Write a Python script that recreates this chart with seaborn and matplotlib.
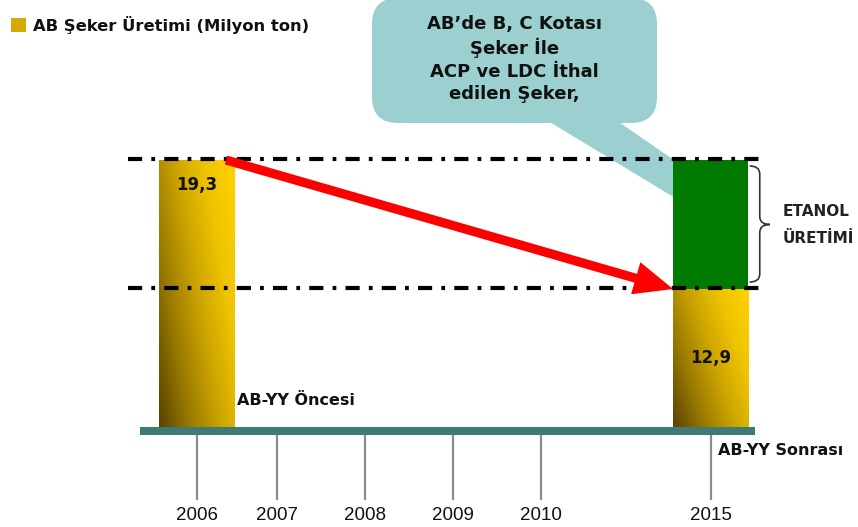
import numpy as np
import pandas as pd
import matplotlib
matplotlib.use("Agg")
import matplotlib.pyplot as plt
import seaborn as sns
from matplotlib.patches import Rectangle, FancyBboxPatch, Polygon, FancyArrowPatch, Patch, PathPatch
from matplotlib.path import Path
from matplotlib.colors import LinearSegmentedColormap

# ---------------- data ----------------
years = ["2006", "2007", "2008", "2009", "2010", "2015"]
bar_years = ["2006", "2015"]
sugar = [19.3, 12.9]          # AB şeker üretimi (milyon ton)
ethanol = [0.0, 6.4]          # etanol üretimine giden kısım
sugar_labels = ["19,3", "12,9"]
legend_label = "AB Şeker Üretimi (Milyon ton)"
era_labels = ["AB-YY Öncesi", "AB-YY Sonrası"]
bubble_text = "AB’de B, C Kotası\nŞeker İle\nACP ve LDC İthal\nedilen Şeker,"
brace_text = "ETANOL\nÜRETİMİ"

# ---------------- layout ----------------
year_pos = [0.0, 0.91, 1.91, 2.91, 3.91, 5.84]   # broken time axis positions
pos = dict(zip(years, year_pos))
BASE = 6.05          # value at the visual baseline (axis does not start at 0)
BAR_W = 0.86
XLIM = (-2.2386, 7.5114)
YLIM = (1.096, 27.236)

sns.set_theme(style="white")
plt.rcParams["font.family"] = ["DejaVu Sans"]

fig = plt.figure(figsize=(8.58, 5.27), dpi=100)
ax = fig.add_axes([0, 0, 1, 1])

df = pd.DataFrame({"year": bar_years, "sugar": sugar, "ethanol": ethanol})
df["x"] = df["year"].map(pos)

gold_mid = "#c9a100"
sns.barplot(data=df, x="x", y="sugar", native_scale=True,
            width=BAR_W / (df["x"].max() - df["x"].min()),
            color=gold_mid, saturation=1, errorbar=None, ax=ax,
            linewidth=0, zorder=2)
gold_patches = list(ax.patches)

# ethanol stacked on top of sugar
ax.bar(df["x"], df["ethanol"], bottom=df["sugar"], width=BAR_W * 0.99,
       color="#007a00", linewidth=0, zorder=2)

ax.set_xlim(*XLIM)
ax.set_ylim(*YLIM)
ax.axis("off")

# clip bars at the visual baseline and add gradient fill
clip_rect = Rectangle((XLIM[0], BASE), XLIM[1] - XLIM[0], 100, transform=ax.transData)
gold_cmap = LinearSegmentedColormap.from_list(
    "gold", ["#5a4400", "#977800", "#cba300", "#efc400", "#ffd200"])
uu = np.linspace(0, 1, 60)[None, :]
vv = np.linspace(0, 1, 120)[:, None]
grad = 0.62 * uu + 0.38 * vv
for p in gold_patches:
    p.set_clip_path(clip_rect)
    x0, w, top = p.get_x(), p.get_width(), p.get_y() + p.get_height()
    im = ax.imshow(grad, cmap=gold_cmap, vmin=0, vmax=1, origin="lower",
                   extent=[x0, x0 + w, BASE, top], aspect="auto", zorder=2.1)
    im.set_clip_path(p)
for p in ax.patches[len(gold_patches):]:
    p.set_clip_path(clip_rect)
ax.set_xlim(*XLIM)
ax.set_ylim(*YLIM)

px_per_unit_y = (fig.get_figheight() * fig.dpi) / (YLIM[1] - YLIM[0])
def dy(px):
    return px / px_per_unit_y

# baseline bar and year ticks
x_left = year_pos[0] - 0.648
x_right = year_pos[-1] + 0.50
ax.plot([x_left, x_right], [BASE - dy(4)] * 2, color="#3f7b76", lw=5.8,
        solid_capstyle="butt", zorder=3)
ax.vlines(year_pos, BASE - dy(8), BASE - dy(73), color="#8c8c8c", lw=1.6, zorder=1)
for yr, xp in zip(years, year_pos):
    ax.text(xp, BASE - dy(88), yr, ha="center", va="center", fontsize=13.5,
            color="#111111", family=["Liberation Sans", "DejaVu Sans"])

# dash-dot reference lines
for v in (sugar[0], sugar[1]):
    ax.plot([year_pos[0] - 0.78, year_pos[-1] + 0.63], [v + dy(1), v + dy(1)],
            color="black", lw=3, ls=(0, (3.4, 2.2, 0.9, 2.2)),
            solid_capstyle="butt", dash_capstyle="butt", zorder=4)

# value labels
ax.text(pos[bar_years[0]], sugar[0] - dy(25), sugar_labels[0], ha="center", va="center",
        fontsize=12, fontweight="bold", color="#111111", zorder=5)
ax.text(pos[bar_years[1]], BASE + (sugar[1] - BASE) * 0.5, sugar_labels[1], ha="center",
        va="center", fontsize=12, fontweight="bold", color="#111111", zorder=5)

# era labels
ax.text(pos[bar_years[0]] + BAR_W / 2 + 0.03, BASE + dy(27), era_labels[0], ha="left",
        va="center", fontsize=11.5, fontweight="bold", color="#111111", zorder=5)
ax.text(pos[bar_years[1]] + 0.08, BASE - dy(23), era_labels[1], ha="left",
        va="center", fontsize=11.5, fontweight="bold", color="#111111", zorder=5)

# red arrow
arrow = FancyArrowPatch((pos[bar_years[0]] + 0.33, sugar[0]),
                        (pos[bar_years[1]] - BAR_W / 2, sugar[1]),
                        arrowstyle="simple,head_length=1.4,head_width=1.2,tail_width=0.33",
                        mutation_scale=20, color="#ff0000", lw=0, zorder=6,
                        shrinkA=0, shrinkB=0)
ax.add_patch(arrow)

# curly brace
xl = pos[bar_years[1]] + BAR_W / 2 + 0.01
xr = xl + 0.23
xm = (xl + xr) / 2
yt = sugar[0] - dy(6)
yb = sugar[1] + dy(7)
ym = (sugar[0] + sugar[1]) / 2
r = dy(8)
verts = [(xl, yt), (xm, yt), (xm, yt - r), (xm, ym + r), (xm, ym), (xr, ym),
         (xm, ym), (xm, ym - r), (xm, yb + r), (xm, yb), (xl, yb)]
codes = [Path.MOVETO, Path.CURVE3, Path.CURVE3, Path.LINETO, Path.CURVE3, Path.CURVE3,
         Path.CURVE3, Path.CURVE3, Path.LINETO, Path.CURVE3, Path.CURVE3]
ax.add_patch(PathPatch(Path(verts, codes), fill=False, ec="#333333", lw=1.2, zorder=5))
ax.text(xr + 0.14, ym, brace_text, ha="left", va="center", fontsize=11,
        fontweight="bold", color="#222222", linespacing=2.0, zorder=5)

# callout bubble (figure inches)
H = fig.get_figheight()
bubble_col = "#9ccfcf"
tail = Polygon([(5.43, H - 1.18), (6.13, H - 1.18), (7.00, H - 1.78), (7.00, H - 2.13)],
               closed=True, transform=fig.dpi_scale_trans, fc=bubble_col, ec="none",
               zorder=1.5)
ax.add_patch(tail)
bubble = FancyBboxPatch((3.72 + 0.26, H - 1.23 + 0.26), 2.85 - 0.52, 1.23 - 0.52 + 0.02,
                        boxstyle="round,pad=0.26", transform=fig.dpi_scale_trans,
                        fc=bubble_col, ec="none", zorder=1.6)
ax.add_patch(bubble)
ax.text(5.145, H - 0.59, bubble_text, transform=fig.dpi_scale_trans, ha="center",
        va="center", fontsize=13, fontweight="bold", color="#111111",
        linespacing=1.3, zorder=5)

# legend
leg = ax.legend(handles=[Patch(facecolor="#d4aa00", edgecolor="none", label=legend_label)],
                loc="upper left", bbox_to_anchor=(-0.004, 0.998), frameon=False,
                handlelength=0.9, handleheight=0.9, handletextpad=0.42,
                prop={"weight": "bold", "size": 11.8})
for t in leg.get_texts():
    t.set_color("#111111")

fig.savefig("out.png", dpi=100, facecolor="white")
